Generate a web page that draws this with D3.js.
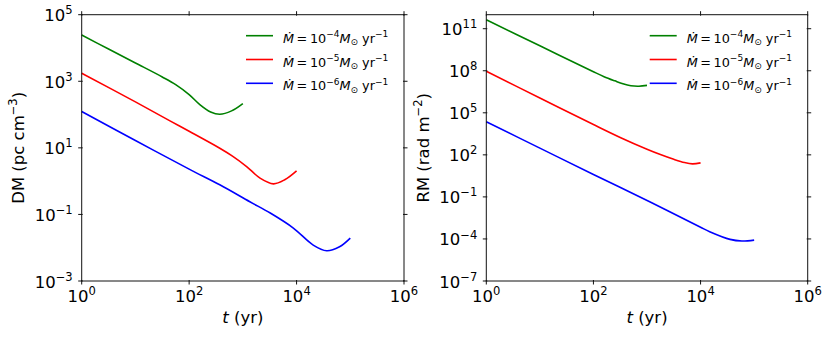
<!DOCTYPE html>
<html>
<head>
<meta charset="utf-8">
<script src="https://cdn.jsdelivr.net/npm/d3@7"></script>
<style>
  body { margin: 0; background: #fff; }
  svg { font-family: "DejaVu Sans", sans-serif; }
</style>
</head>
<body>
<div id="chart"></div>
<script>
// legend / series
const rateExps = ["\u22124", "\u22125", "\u22126"];
const seriesColors = ["#008000", "#ff0000", "#0000ff"];

// tick exponents
const xTickExps = [0, 2, 4, 6];
const dmTickExps = [-3, -1, 1, 3, 5];
const rmTickExps = [-7, -4, -1, 2, 5, 8, 11];

// DM (pc cm^-3) vs t (yr)
const dmT4 = [1, 3.16, 10, 31.6, 56.2, 100, 158, 251, 372, 617, 1000];
const dm4 = [2.45e4, 9.3e3, 3.55e3, 1350, 794, 398, 200, 120, 102, 129, 214];
const dmT5 = [1, 10, 44, 100, 372, 631, 1175, 2090, 3715, 6026, 1e4];
const dm5 = [1740, 240, 64.6, 31.6, 9.77, 5.75, 2.75, 1.23, 0.83, 1.10, 2.04];
const dmT6 = [1, 10, 100, 372, 1349, 3236, 8710, 20420, 36300, 63100, 1e5];
const dm6 = [123, 16.6, 2.29, 0.776, 0.24, 0.11, 0.039, 0.012, 0.0081, 0.0107, 0.0195];

// RM (rad m^-2) vs t (yr)
const rmT4 = [1, 10, 100, 158, 251, 355, 501, 708, 1000];
const rm4 = [4.37e11, 6.0e9, 8.5e7, 3.8e7, 1.9e7, 1.17e7, 8.5e6, 7.9e6, 9.1e6];
const rmT5 = [1, 10, 100, 316, 1000, 1778, 3162, 5012, 7079, 1e4];
const rm5 = [9.1e7, 1.15e6, 1.45e4, 1740, 251, 105, 47.9, 28.2, 22.9, 26.9];
const rmT6 = [1, 10, 100, 1122, 1e4, 14790, 35480, 58900, 1e5];
const rm6 = [2.29e4, 302, 3.98, 0.0457, 6.8e-4, 3.3e-4, 9.3e-5, 7.1e-5, 8.3e-5];

const zip = (a, b) => a.map((v, i) => [v, b[i]]);

const svg = d3.select("#chart").append("svg")
    .attr("width", 831)
    .attr("height", 337);

// writes 10^exp as text with a superscript
function powLabel(sel, exp, size) {
    sel.append("tspan").text("10");
    sel.append("tspan")
        .attr("dy", -size * 0.42)
        .style("font-size", (size * 0.7) + "px")
        .text(String(exp).replace("-", "\u2212"));
}

function drawPanel(cfg) {
    const x = d3.scaleLog().domain([1, 1e6]).range([cfg.left, cfg.right]);
    const y = d3.scaleLog().domain(cfg.yDomain).range([cfg.bottom, cfg.top]);
    const fs = 16.5;

    const g = svg.append("g");

    // series
    const line = d3.line()
        .x(d => x(d[0]))
        .y(d => y(d[1]))
        .curve(d3.curveCatmullRom.alpha(0.5));

    cfg.series.forEach((s, i) => {
        g.append("path")
            .datum(s)
            .attr("fill", "none")
            .attr("stroke", seriesColors[i])
            .attr("stroke-width", 1.6)
            .attr("d", line);
    });

    // frame
    g.append("rect")
        .attr("x", cfg.left).attr("y", cfg.top)
        .attr("width", cfg.right - cfg.left)
        .attr("height", cfg.bottom - cfg.top)
        .attr("fill", "none")
        .attr("stroke", "#111")
        .attr("stroke-width", 1);

    // ticks on all four sides
    xTickExps.forEach(e => {
        const px = x(Math.pow(10, e));
        g.append("line").attr("x1", px).attr("x2", px)
            .attr("y1", cfg.bottom - 1).attr("y2", cfg.bottom + 3.5)
            .attr("stroke", "#111");
        g.append("line").attr("x1", px).attr("x2", px)
            .attr("y1", cfg.top + 1).attr("y2", cfg.top - 3.5)
            .attr("stroke", "#111");
        const t = g.append("text")
            .attr("x", px).attr("y", cfg.bottom + 21)
            .attr("text-anchor", "middle")
            .style("font-size", fs + "px");
        powLabel(t, e, fs);
    });

    cfg.yTickExps.forEach(e => {
        const py = y(Math.pow(10, e));
        g.append("line").attr("x1", cfg.left + 1).attr("x2", cfg.left - 3.5)
            .attr("y1", py).attr("y2", py).attr("stroke", "#111");
        g.append("line").attr("x1", cfg.right - 1).attr("x2", cfg.right + 3.5)
            .attr("y1", py).attr("y2", py).attr("stroke", "#111");
        const t = g.append("text")
            .attr("x", cfg.left - 9).attr("y", py + 6.5)
            .attr("text-anchor", "end")
            .style("font-size", fs + "px");
        powLabel(t, e, fs);
    });

    // x label
    const xl = g.append("text")
        .attr("x", (cfg.left + cfg.right) / 2)
        .attr("y", cfg.bottom + 42)
        .attr("text-anchor", "middle")
        .style("font-size", fs + "px");
    xl.append("tspan").style("font-style", "italic").text("t");
    xl.append("tspan").text(" (yr)");

    // y label
    const yl = g.append("text")
        .attr("transform", `translate(${cfg.ylabelX},${(cfg.top + cfg.bottom) / 2}) rotate(-90)`)
        .attr("text-anchor", "middle")
        .style("font-size", fs + "px");
    yl.append("tspan").text(cfg.ylabel);
    yl.append("tspan").attr("dy", -7).style("font-size", "11.5px").text(cfg.ylabelExp);
    yl.append("tspan").attr("dy", 7).text(")");

    // legend
    const lx = cfg.right - 158;
    rateExps.forEach((e, i) => {
        const ly = cfg.top + 21 + i * 23.8;
        g.append("line")
            .attr("x1", lx).attr("x2", lx + 27)
            .attr("y1", ly).attr("y2", ly)
            .attr("stroke", seriesColors[i])
            .attr("stroke-width", 1.6);
        const t = g.append("text")
            .attr("x", lx + 37).attr("y", ly + 7)
            .style("font-size", "12.8px");
        t.append("tspan").style("font-style", "italic").text("\u1E40");
        t.append("tspan").text("\u2009=\u200910");
        t.append("tspan").attr("dy", -5.8).style("font-size", "9px").text(e);
        t.append("tspan").attr("dy", 5.8).style("font-style", "italic").text("M");
        t.append("tspan").attr("dy", 2.6).style("font-size", "9px").text("\u2299");
        t.append("tspan").attr("dy", -2.6).text(" yr");
        t.append("tspan").attr("dy", -5.8).style("font-size", "9px").text("\u22121");
    });
}

drawPanel({
    left: 81.7, right: 404, top: 14.7, bottom: 281,
    yDomain: [1e-3, 1e5],
    yTickExps: dmTickExps,
    ylabel: "DM (pc cm",
    ylabelExp: "\u22123",
    ylabelX: 24,
    series: [zip(dmT4, dm4), zip(dmT5, dm5), zip(dmT6, dm6)]
});

drawPanel({
    left: 486.3, right: 807.7, top: 14.7, bottom: 281,
    yDomain: [1e-7, 1e12],
    yTickExps: rmTickExps,
    ylabel: "RM (rad m",
    ylabelExp: "\u22122",
    ylabelX: 429,
    series: [zip(rmT4, rm4), zip(rmT5, rm5), zip(rmT6, rm6)]
});
</script>
</body>
</html>
